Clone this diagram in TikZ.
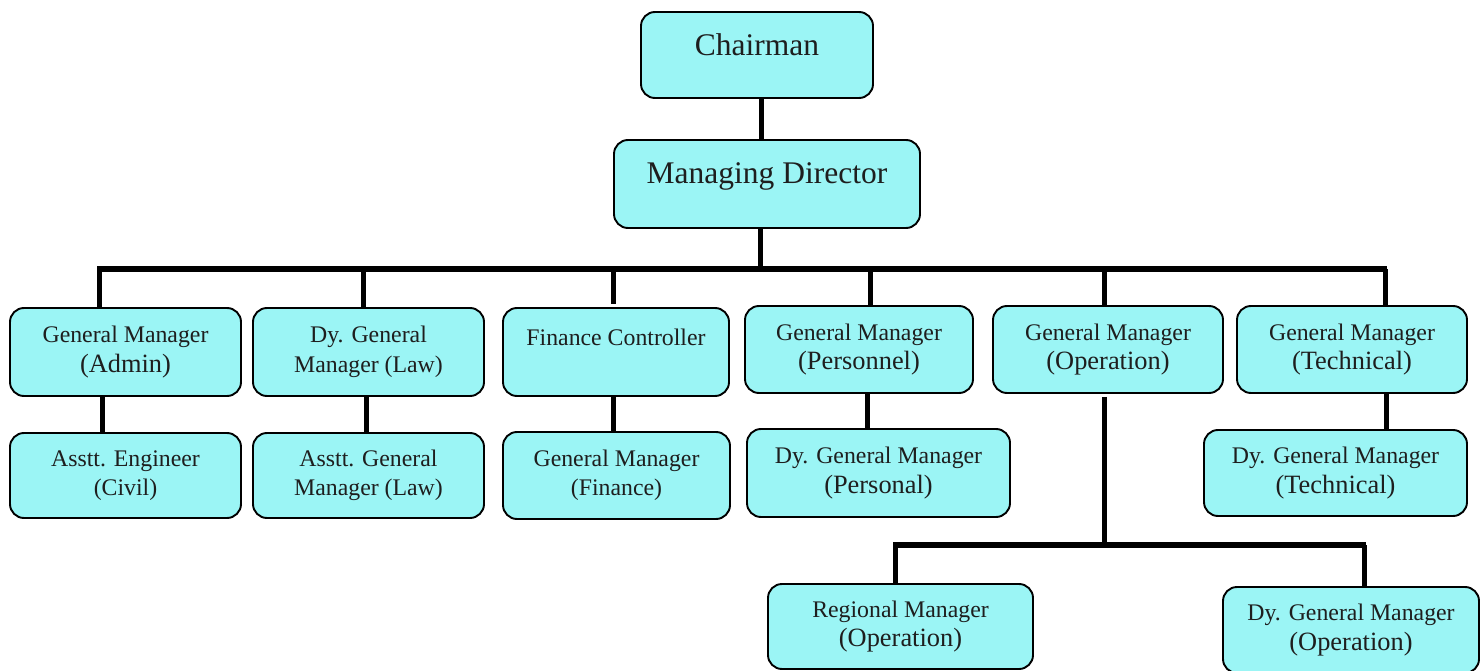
\documentclass[tikz,border=0pt]{standalone}
\usepackage{fontspec}
\setmainfont{Liberation Serif}
\definecolor{boxcyan}{RGB}{155,245,245}
\definecolor{txtgray}{RGB}{30,30,30}
\newcommand{\lsub}[1]{{\fontsize{26.4}{29.5}\selectfont #1}}

\begin{document}
\begin{tikzpicture}[x=1pt,y=-1pt]
   \tikzstyle{card}=[draw, line width=1.9pt, rounded corners=14pt, fill=boxcyan, text=txtgray, align=center, inner sep=0pt]
   \tikzstyle{box}=[card, font=\fontsize{23.8}{29.5}\selectfont, execute at begin node=\rule{0pt}{23pt}]
   \tikzstyle{head}=[card, font=\fontsize{31.5}{38}\selectfont, text depth=21pt]
   \tikzstyle{link}=[line width=5pt]
   \tikzstyle{bus}=[line width=5.5pt]

\useasboundingbox (0,0) rectangle (1481,671);

\node[head, minimum width=232pt, minimum height=86pt] (chair) at (757,55) {Chairman};
\node[head, minimum width=306pt, minimum height=88pt] (md) at (767,184) {Managing Director};

\node[box, minimum width=231pt, minimum height=88pt] (gmadmin) at (125.5,352) {General Manager\\\lsub{(Admin)}};
\node[box, minimum width=231pt, minimum height=88pt] (dgmlaw) at (368.5,352) {Dy. General\\Manager (Law)};
\node[box, minimum width=226pt, minimum height=88pt] (fc) at (616,352) {Finance Controller\\\mbox{}};
\node[box, minimum width=228pt, minimum height=87pt] (gmpers) at (859,349.5) {General Manager\\\lsub{(Personnel)}};
\node[box, minimum width=230pt, minimum height=87pt] (gmop) at (1108,349.5) {General Manager\\\lsub{(Operation)}};
\node[box, minimum width=230pt, minimum height=87pt] (gmtech) at (1352,349.5) {General Manager\\\lsub{(Technical)}};

\node[box, minimum width=231pt, minimum height=85pt] (aeng) at (125.5,475.5) {Asstt. Engineer\\(Civil)};
\node[box, minimum width=231pt, minimum height=85pt] (agmlaw) at (368.5,475.5) {Asstt. General\\Manager (Law)};
\node[box, minimum width=227pt, minimum height=87pt] (gmfin) at (616.5,475.5) {General Manager\\(Finance)};
\node[box, minimum width=263pt, minimum height=88pt] (dgmpers) at (878.5,473) {Dy. General Manager\\\lsub{(Personal)}};
\node[box, minimum width=263pt, minimum height=86pt] (dgmtech) at (1335.5,473) {Dy. General Manager\\\lsub{(Technical)}};

\node[box, minimum width=265pt, minimum height=85pt] (rm) at (900.5,626.5) {Regional Manager\\\lsub{(Operation)}};
\node[box, minimum width=256pt, minimum height=86pt] (dgmop) at (1351,630) {Dy. General Manager\\\lsub{(Operation)}};

\coordinate (busL) at (97,269);
\coordinate (busR) at (1387,269);
\coordinate (bus0) at (760,269);
\coordinate (d1) at (99,269);
\coordinate (d2) at (363,269);
\coordinate (d3) at (613,269);
\coordinate (d4) at (870,269);
\coordinate (d5) at (1104,269);
\coordinate (d6) at (1385,269);

\draw[link] ([xshift=4pt]chair.south) -- ([xshift=4pt]chair.south |- md.north);
\draw[link] (md.south -| bus0) -- (bus0);
\draw[bus] (busL) -- (busR);
\draw[link] (d1) -- (d1 |- gmadmin.north);
\draw[link] (d2) -- (d2 |- dgmlaw.north);
\draw[link] (d3) -- ([yshift=3pt]d3 |- fc.north);
\draw[link] (d4) -- (d4 |- gmpers.north);
\draw[link] (d5) -- (d5 |- gmop.north);
\draw[link] (d6) -- (d6 |- gmtech.north);

\draw[link] ([xshift=-23pt]gmadmin.south) -- ([xshift=-23pt]gmadmin.south |- aeng.north);
\draw[link] ([xshift=-2.5pt]dgmlaw.south) -- ([xshift=-2.5pt]dgmlaw.south |- agmlaw.north);
\draw[link] ([xshift=-3pt]fc.south) -- ([xshift=-3pt]fc.south |- gmfin.north);
\draw[link] ([xshift=8pt]gmpers.south) -- ([xshift=8pt]gmpers.south |- dgmpers.north);
\draw[link] ([xshift=34pt]gmtech.south) -- ([xshift=34pt]gmtech.south |- dgmtech.north);

\coordinate (opbus) at (1104,545);
\coordinate (opL) at (893,545);
\coordinate (opR) at (1366,545);
\coordinate (e1) at (895,545);
\coordinate (e2) at (1364,545);

\draw[link] ([yshift=-3pt]gmop.south -| opbus) -- (opbus);
\draw[bus] (opL) -- (opR);
\draw[link] (e1) -- (e1 |- rm.north);
\draw[link] (e2) -- (e2 |- dgmop.north);

\end{tikzpicture}
\end{document}
